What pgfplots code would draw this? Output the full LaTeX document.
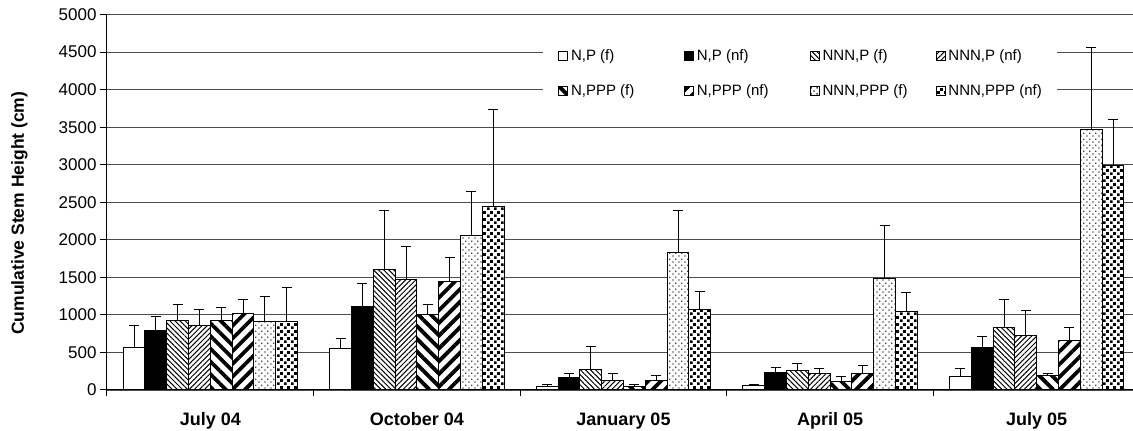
\documentclass[border=0pt]{standalone}
\usepackage{fontspec}
\setmainfont{Liberation Sans}
\usepackage{pgfplots}
\pgfplotsset{compat=1.18}
\usetikzlibrary{patterns,patterns.meta}

\pgfdeclarepattern{
  name=checksq, type=uncolored,
  bottom left={\pgfpoint{0pt}{0pt}}, top right={\pgfpoint{6.6pt}{6.6pt}},
  tile size={\pgfpoint{6.6pt}{6.6pt}},
  code={
    \pgfpathrectangle{\pgfpoint{0pt}{0pt}}{\pgfpoint{2.9pt}{2.9pt}}
    \pgfpathrectangle{\pgfpoint{3.3pt}{3.3pt}}{\pgfpoint{2.9pt}{2.9pt}}
    \pgfusepath{fill}
  }
}
\pgfdeclarepattern{
  name=smalldots, type=uncolored,
  bottom left={\pgfpoint{0pt}{0pt}}, top right={\pgfpoint{6pt}{6pt}},
  tile size={\pgfpoint{6pt}{6pt}},
  code={
    \pgfpathrectangle{\pgfpoint{0.5pt}{0.5pt}}{\pgfpoint{1.5pt}{1.5pt}}
    \pgfpathrectangle{\pgfpoint{3.5pt}{3.5pt}}{\pgfpoint{1.5pt}{1.5pt}}
    \pgfusepath{fill}
  }
}

\pgfplotsset{
  eb/.style={error bars/.cd, y dir=plus, y explicit,
    error bar style={line width=1pt, black},
    error mark options={rotate=90, line width=1pt, black, mark size=5pt}},
  bars/.style={draw=black, line width=1pt},
  leg/.style={legend image code/.code={\draw[##1,line width=0.8pt] (0pt,-4.5pt) rectangle (9pt,4.5pt);}},
}

\begin{document}
\begin{tikzpicture}
\path[use as bounding box] (-107pt,-41pt) rectangle (1026pt,390pt);
\clip (-107pt,-41pt) rectangle (1026pt,390pt);
\begin{axis}[
  at={(0pt,0pt)}, anchor=south west,
  scale only axis, width=1026pt, height=375.5pt,
  xmin=-0.5, xmax=4.466, ymin=0, ymax=5000,
  ybar=0pt, bar width=21.8pt,
  every axis plot/.append style={leg},
  axis lines=left, axis line style={-, line width=1pt, black},
  ytick={0,500,...,5000},
  ymajorgrids, grid style={black!70, line width=0.8pt},
  tick align=outside, major tick length=7pt, minor tick length=6pt,
  tick style={black, line width=1pt},
  xtick={0,1,2,3,4},
  xticklabels={July 04,October 04,January 05,April 05,July 05},
  minor xtick={-0.5,0.5,1.5,2.5,3.5},
  major x tick style={draw=none},
  xticklabel style={font=\fontsize{18}{21}\selectfont\bfseries, yshift=-12pt},
  /pgf/number format/assume math mode=true,
  yticklabel style={font=\fontsize{17}{20}\selectfont, /pgf/number format/1000 sep={}},
  ylabel={Cumulative Stem Height (cm)},
  ylabel style={font=\fontsize{17.5}{20}\selectfont\bfseries, at={(axis description cs:-0.0853,0.471)}, anchor=center},
  legend columns=4,
  legend cell align=left,
  legend style={at={(axis description cs:0.425,0.928)}, anchor=north west,
    draw=none, fill=white, inner xsep=15pt, inner ysep=5pt,
    font=\fontsize{15}{18}\selectfont,
    nodes={inner xsep=0pt, inner ysep=3pt},
    row sep=17pt,
    /tikz/every odd column/.style={column sep=3pt},
    /tikz/every even column/.style={column sep=0pt}},
]
% N,P (f)
\addplot[bars, fill=white, eb] coordinates {
 (0,565) +- (0,295) (1,548) +- (0,134) (2,45) +- (0,31) (3,60) +- (0,18) (4,174) +- (0,116)};
\addlegendentry{\makebox[113pt][l]{N,P (f)}}
% N,P (nf)
\addplot[bars, fill=black, eb] coordinates {
 (0,798) +- (0,182) (1,1110) +- (0,311) (2,160) +- (0,63) (3,227) +- (0,76) (4,571) +- (0,142)};
\addlegendentry{\makebox[113pt][l]{N,P (nf)}}
% NNN,P (f)
\addplot[bars, preaction={fill=white}, pattern={Lines[angle=-45,distance=3.6pt,line width=1pt]}, pattern color=black, eb] coordinates {
 (0,932) +- (0,208) (1,1600) +- (0,784) (2,276) +- (0,303) (3,263) +- (0,93) (4,829) +- (0,374)};
\addlegendentry{\makebox[113pt][l]{NNN,P (f)}}
% NNN,P (nf)
\addplot[bars, preaction={fill=white}, pattern={Lines[angle=45,distance=3.6pt,line width=1pt]}, pattern color=black, eb] coordinates {
 (0,865) +- (0,209) (1,1466) +- (0,446) (2,129) +- (0,94) (3,218) +- (0,72) (4,731) +- (0,329)};
\addlegendentry{NNN,P (nf)}
% N,PPP (f)
\addplot[bars, preaction={fill=white}, pattern={Lines[angle=-45,distance=9pt,line width=3.8pt]}, pattern color=black, eb] coordinates {
 (0,932) +- (0,173) (1,1007) +- (0,133) (2,45) +- (0,31) (3,116) +- (0,62) (4,196) +- (0,27)};
\addlegendentry{\makebox[113pt][l]{N,PPP (f)}}
% N,PPP (nf)
\addplot[bars, preaction={fill=white}, pattern={Lines[angle=45,distance=9pt,line width=3.8pt]}, pattern color=black, eb] coordinates {
 (0,1025) +- (0,182) (1,1448) +- (0,317) (2,129) +- (0,62) (3,223) +- (0,102) (4,664) +- (0,165)};
\addlegendentry{\makebox[113pt][l]{N,PPP (nf)}}
% NNN,PPP (f)
\addplot[bars, preaction={fill=white}, pattern=smalldots, pattern color=black!75, eb] coordinates {
 (0,909) +- (0,330) (1,2059) +- (0,584) (2,1825) +- (0,569) (3,1484) +- (0,704) (4,3467) +- (0,1096)};
\addlegendentry{\makebox[113pt][l]{NNN,PPP (f)}}
% NNN,PPP (nf)
\addplot[bars, preaction={fill=white}, pattern=checksq, pattern color=black, eb] coordinates {
 (0,913) +- (0,446) (1,2437) +- (0,1292) (2,1078) +- (0,228) (3,1047) +- (0,246) (4,2995) +- (0,605)};
\addlegendentry{NNN,PPP (nf)}
\end{axis}
\end{tikzpicture}
\end{document}
